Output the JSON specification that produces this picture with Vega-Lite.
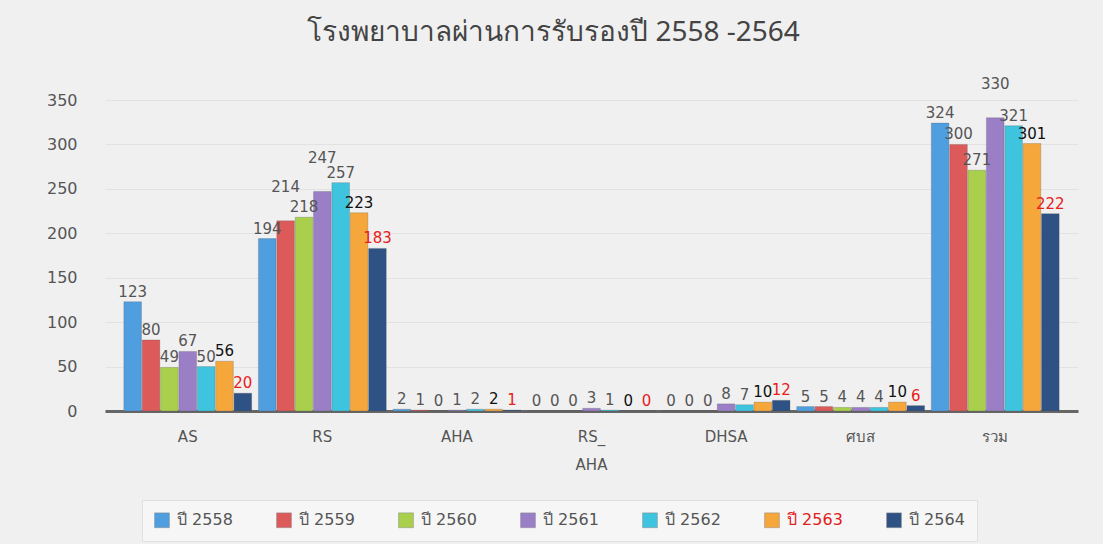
{
  "$schema": "https://vega.github.io/schema/vega-lite/v6.json",
  "autosize": {"type": "none"},
  "width": 973,
  "height": 311,
  "padding": {"left": 105, "top": 100, "right": 25, "bottom": 133},
  "background": "#f0f0f0",
  "config": {"view": {"stroke": null}},
  "title": {
    "text": "โรงพยาบาลผ่านการรับรองปี 2558 -2564",
    "fontSize": 28,
    "fontWeight": "normal",
    "color": "#444444",
    "font": "Noto Sans",
    "offset": 30,
    "dx": -38,
    "anchor": "middle"
  },
  "data": {
    "values": [
      {"cat": "AS", "year": "ปี 2558", "value": 123},
      {"cat": "AS", "year": "ปี 2559", "value": 80},
      {"cat": "AS", "year": "ปี 2560", "value": 49},
      {"cat": "AS", "year": "ปี 2561", "value": 67},
      {"cat": "AS", "year": "ปี 2562", "value": 50},
      {"cat": "AS", "year": "ปี 2563", "value": 56},
      {"cat": "AS", "year": "ปี 2564", "value": 20},
      {"cat": "RS", "year": "ปี 2558", "value": 194},
      {"cat": "RS", "year": "ปี 2559", "value": 214},
      {"cat": "RS", "year": "ปี 2560", "value": 218},
      {"cat": "RS", "year": "ปี 2561", "value": 247},
      {"cat": "RS", "year": "ปี 2562", "value": 257},
      {"cat": "RS", "year": "ปี 2563", "value": 223},
      {"cat": "RS", "year": "ปี 2564", "value": 183},
      {"cat": "AHA", "year": "ปี 2558", "value": 2},
      {"cat": "AHA", "year": "ปี 2559", "value": 1},
      {"cat": "AHA", "year": "ปี 2560", "value": 0},
      {"cat": "AHA", "year": "ปี 2561", "value": 1},
      {"cat": "AHA", "year": "ปี 2562", "value": 2},
      {"cat": "AHA", "year": "ปี 2563", "value": 2},
      {"cat": "AHA", "year": "ปี 2564", "value": 1},
      {"cat": "RS_ AHA", "year": "ปี 2558", "value": 0},
      {"cat": "RS_ AHA", "year": "ปี 2559", "value": 0},
      {"cat": "RS_ AHA", "year": "ปี 2560", "value": 0},
      {"cat": "RS_ AHA", "year": "ปี 2561", "value": 3},
      {"cat": "RS_ AHA", "year": "ปี 2562", "value": 1},
      {"cat": "RS_ AHA", "year": "ปี 2563", "value": 0},
      {"cat": "RS_ AHA", "year": "ปี 2564", "value": 0},
      {"cat": "DHSA", "year": "ปี 2558", "value": 0},
      {"cat": "DHSA", "year": "ปี 2559", "value": 0},
      {"cat": "DHSA", "year": "ปี 2560", "value": 0},
      {"cat": "DHSA", "year": "ปี 2561", "value": 8},
      {"cat": "DHSA", "year": "ปี 2562", "value": 7},
      {"cat": "DHSA", "year": "ปี 2563", "value": 10},
      {"cat": "DHSA", "year": "ปี 2564", "value": 12},
      {"cat": "ศบส", "year": "ปี 2558", "value": 5},
      {"cat": "ศบส", "year": "ปี 2559", "value": 5},
      {"cat": "ศบส", "year": "ปี 2560", "value": 4},
      {"cat": "ศบส", "year": "ปี 2561", "value": 4},
      {"cat": "ศบส", "year": "ปี 2562", "value": 4},
      {"cat": "ศบส", "year": "ปี 2563", "value": 10},
      {"cat": "ศบส", "year": "ปี 2564", "value": 6},
      {"cat": "รวม", "year": "ปี 2558", "value": 324},
      {"cat": "รวม", "year": "ปี 2559", "value": 300},
      {"cat": "รวม", "year": "ปี 2560", "value": 271},
      {"cat": "รวม", "year": "ปี 2561", "value": 330},
      {"cat": "รวม", "year": "ปี 2562", "value": 321},
      {"cat": "รวม", "year": "ปี 2563", "value": 301},
      {"cat": "รวม", "year": "ปี 2564", "value": 222}
    ]
  },
  "encoding": {
    "x": {
      "field": "cat",
      "type": "nominal",
      "sort": null,
      "scale": {"paddingInner": 0.05, "paddingOuter": 0.14},
      "axis": {
        "title": null,
        "labelAngle": 0,
        "labelFontSize": 15,
        "labelColor": "#555555",
        "labelFont": "DejaVu Sans",
        "labelPadding": 18,
        "labelLineHeight": 28,
        "labelExpr": "datum.value == 'RS_ AHA' ? ['RS_', 'AHA'] : datum.value",
        "ticks": false,
        "domainColor": "#666666",
        "domainWidth": 3
      }
    },
    "xOffset": {"field": "year", "type": "nominal", "scale": {"paddingInner": 0.04}},
    "y": {
      "field": "value",
      "type": "quantitative",
      "scale": {"domain": [0, 350]},
      "axis": {
        "title": null,
        "values": [0, 50, 100, 150, 200, 250, 300, 350],
        "labelFontSize": 16,
        "labelColor": "#555555",
        "labelFont": "DejaVu Sans",
        "labelPadding": 28,
        "ticks": false,
        "domain": false,
        "gridColor": "#e2e2e2",
        "gridWidth": 1
      }
    }
  },
  "layer": [
    {
      "mark": {"type": "bar", "stroke": "#555555", "strokeWidth": 0.5, "strokeOpacity": 0.5},
      "encoding": {
        "color": {
          "field": "year",
          "type": "nominal",
          "scale": {
            "domain": ["ปี 2558", "ปี 2559", "ปี 2560", "ปี 2561", "ปี 2562", "ปี 2563", "ปี 2564"],
            "range": ["#4f9ee0", "#dd5a5a", "#a9cf4c", "#9a7fc6", "#3fc4df", "#f5a73c", "#2d5283"]
          },
          "legend": {
            "title": null,
            "orient": "none",
            "legendX": 37,
            "legendY": 400,
            "direction": "horizontal",
            "symbolType": "square",
            "symbolSize": 220,
            "symbolStrokeColor": "#888888",
            "symbolStrokeWidth": 0.5,
            "symbolOffset": 0,
            "labelOffset": 7,
            "labelFontSize": 16,
            "labelFont": "DejaVu Sans",
            "labelColor": "#555555",
            "columnPadding": 42,
            "padding": 12,
            "fillColor": "#f6f6f6",
            "strokeColor": "#e0e0e0",
            "encode": {
              "labels": {
                "update": {
                  "fill": {"signal": "datum.label === 'ปี 2563' ? '#e0201a' : '#555555'"}
                }
              }
            }
          }
        }
      }
    },
    {
      "transform": [
        {"filter": "!((datum.cat == 'RS' && (datum.year == 'ปี 2559' || datum.year == 'ปี 2561')) || (datum.cat == 'รวม' && datum.year == 'ปี 2561'))"}
      ],
      "mark": {"type": "text", "dy": -10, "fontSize": 15, "font": "DejaVu Sans"},
      "encoding": {
        "text": {"field": "value", "type": "quantitative"},
        "color": {
          "condition": [
            {"test": "datum.year == 'ปี 2564'", "value": "#e8201a"},
            {"test": "datum.year == 'ปี 2563'", "value": "#111111"}
          ],
          "value": "#555555"
        },
        "fontWeight": {
          "condition": {"test": "datum.year == 'ปี 2563'", "value": "bold"},
          "value": "normal"
        }
      }
    },
    {
      "transform": [
        {"filter": "(datum.cat == 'RS' && (datum.year == 'ปี 2559' || datum.year == 'ปี 2561')) || (datum.cat == 'รวม' && datum.year == 'ปี 2561')"}
      ],
      "mark": {"type": "text", "dy": -34, "fontSize": 15, "font": "DejaVu Sans", "color": "#555555"},
      "encoding": {
        "text": {"field": "value", "type": "quantitative"}
      }
    }
  ]
}
